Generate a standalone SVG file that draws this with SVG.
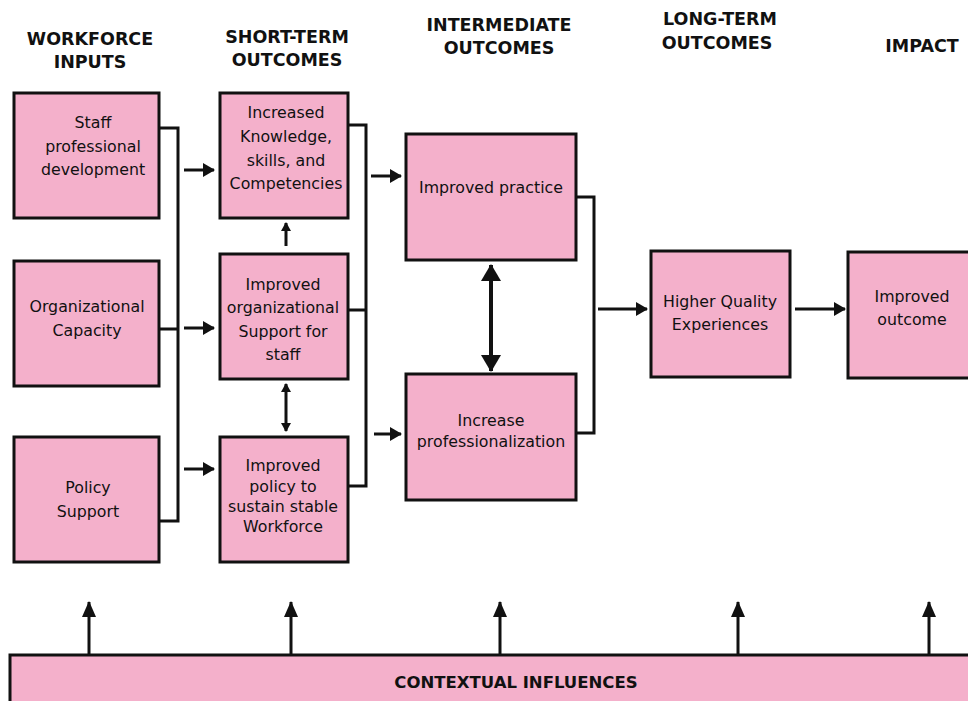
<svg xmlns="http://www.w3.org/2000/svg" width="968" height="701" viewBox="0 0 968 701">
<style>
.box{fill:#F4B0CB;stroke:#111;stroke-width:3}
.t{font-family:"DejaVu Sans","Liberation Sans",sans-serif;font-size:15.8px;fill:#111;text-anchor:middle}
.h{font-family:"DejaVu Sans","Liberation Sans",sans-serif;font-size:17.5px;font-weight:bold;fill:#111;text-anchor:middle}
.c{fill:none;stroke:#111;stroke-width:3}
.a{fill:none;stroke:#111;stroke-width:3;marker-end:url(#ah)}
.s{fill:none;stroke:#111;stroke-width:3;marker-end:url(#as)}
.ds{fill:none;stroke:#111;stroke-width:3;marker-end:url(#as);marker-start:url(#as)}
.db{fill:none;stroke:#111;stroke-width:4;marker-end:url(#ab);marker-start:url(#ab)}
.u{fill:none;stroke:#111;stroke-width:3;marker-end:url(#au)}
</style>
<defs>
<marker id="ah" markerUnits="userSpaceOnUse" markerWidth="12" markerHeight="14" refX="11" refY="7" orient="auto-start-reverse" viewBox="0 0 12 14"><path d="M0,0 L12,7 L0,14 z" fill="#111"/></marker>
<marker id="as" markerUnits="userSpaceOnUse" markerWidth="9" markerHeight="10" refX="8" refY="5" orient="auto-start-reverse" viewBox="0 0 9 10"><path d="M0,0 L9,5 L0,10 z" fill="#111"/></marker>
<marker id="ab" markerUnits="userSpaceOnUse" markerWidth="17" markerHeight="20" refX="16" refY="10" orient="auto-start-reverse" viewBox="0 0 17 20"><path d="M0,0 L17,10 L0,20 z" fill="#111"/></marker>
<marker id="au" markerUnits="userSpaceOnUse" markerWidth="16" markerHeight="14" refX="15" refY="7" orient="auto" viewBox="0 0 16 14"><path d="M0,0 L16,7 L0,14 z" fill="#111"/></marker>
</defs>
<rect width="968" height="701" fill="#fff"/>
<g id="headers">
<text class="h" x="90" y="45">WORKFORCE</text><text class="h" x="90" y="68">INPUTS</text>
<text class="h" x="287" y="43">SHORT-TERM</text><text class="h" x="287" y="66">OUTCOMES</text>
<text class="h" x="499" y="31">INTERMEDIATE</text><text class="h" x="499" y="54">OUTCOMES</text>
<text class="h" x="720" y="25">LONG-TERM</text><text class="h" x="717" y="49">OUTCOMES</text>
<text class="h" x="922" y="52">IMPACT</text>
</g>
<g id="connectors">
<path class="c" d="M159,128 H178 V521 H159 M159,329 H178"/>
<line class="a" x1="184" y1="170" x2="214" y2="170"/>
<line class="a" x1="184" y1="328" x2="214" y2="328"/>
<line class="a" x1="184" y1="469" x2="214" y2="469"/>
<line class="s" x1="286" y1="246" x2="286" y2="223"/>
<line class="ds" x1="286" y1="384" x2="286" y2="431"/>
<path class="c" d="M348,125 H366 V486 H348 M348,310 H366"/>
<line class="a" x1="371" y1="176" x2="401" y2="176"/>
<line class="a" x1="374" y1="434" x2="401" y2="434"/>
<line class="db" x1="491" y1="265" x2="491" y2="371"/>
<path class="c" d="M576,197 H594 V433 H573"/>
<line class="a" x1="598" y1="309" x2="647" y2="309"/>
<line class="a" x1="795" y1="309" x2="845" y2="309"/>
<line class="u" x1="89" y1="655" x2="89" y2="602"/>
<line class="u" x1="291" y1="655" x2="291" y2="602"/>
<line class="u" x1="500" y1="655" x2="500" y2="602"/>
<line class="u" x1="738" y1="655" x2="738" y2="602"/>
<line class="u" x1="929" y1="655" x2="929" y2="602"/>
</g>
<g id="staff-pd"><rect class="box" x="14" y="93" width="145" height="125"/>
<text class="t" x="93" y="128">Staff</text><text class="t" x="93" y="152">professional</text><text class="t" x="93" y="175">development</text></g>
<g id="org-capacity"><rect class="box" x="14" y="261" width="145" height="125"/>
<text class="t" x="87" y="312">Organizational</text><text class="t" x="87" y="336">Capacity</text></g>
<g id="policy-support"><rect class="box" x="14" y="437" width="145" height="125"/>
<text class="t" x="88" y="493">Policy</text><text class="t" x="88" y="517">Support</text></g>
<g id="knowledge"><rect class="box" x="220" y="93" width="128" height="125"/>
<text class="t" x="286" y="118">Increased</text><text class="t" x="286" y="142">Knowledge,</text><text class="t" x="286" y="166">skills, and</text><text class="t" x="286" y="189">Competencies</text></g>
<g id="org-support"><rect class="box" x="220" y="254" width="128" height="125"/>
<text class="t" x="283" y="290">Improved</text><text class="t" x="283" y="313">organizational</text><text class="t" x="283" y="337">Support for</text><text class="t" x="283" y="360">staff</text></g>
<g id="policy-workforce"><rect class="box" x="220" y="437" width="128" height="125"/>
<text class="t" x="283" y="471">Improved</text><text class="t" x="283" y="492">policy to</text><text class="t" x="283" y="512">sustain stable</text><text class="t" x="283" y="532">Workforce</text></g>
<g id="improved-practice"><rect class="box" x="406" y="134" width="170" height="126"/>
<text class="t" x="491" y="193">Improved practice</text></g>
<g id="professionalization"><rect class="box" x="406" y="374" width="170" height="126"/>
<text class="t" x="491" y="426">Increase</text><text class="t" x="491" y="447">professionalization</text></g>
<g id="higher-quality"><rect class="box" x="651" y="251" width="139" height="126"/>
<text class="t" x="720" y="307">Higher Quality</text><text class="t" x="720" y="330">Experiences</text></g>
<g id="improved-outcome"><rect class="box" x="848" y="252" width="130" height="126"/>
<text class="t" x="912" y="302">Improved</text><text class="t" x="912" y="325">outcome</text></g>
<g id="contextual"><rect class="box" x="10" y="655" width="970" height="60"/>
<text class="h" x="516" y="688" style="font-size:16.5px">CONTEXTUAL INFLUENCES</text></g>
</svg>
